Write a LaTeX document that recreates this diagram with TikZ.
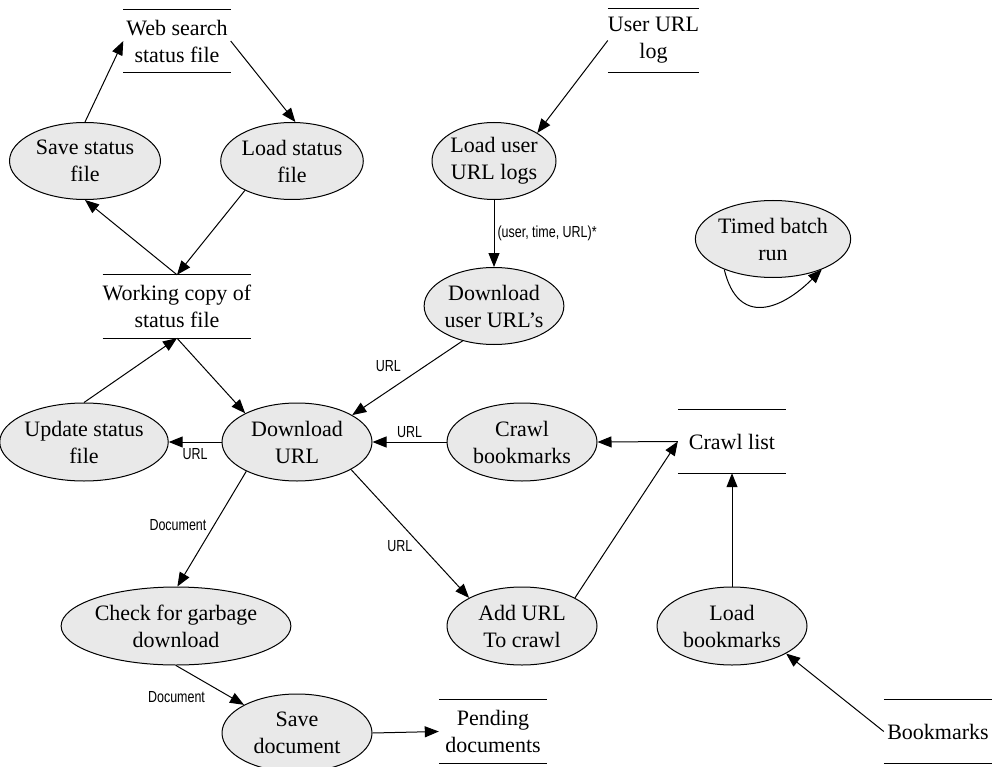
\documentclass[tikz,border=0pt]{standalone}
\usepackage{fontspec}
\setmainfont{Liberation Serif}
\newfontfamily\lblfont[FakeStretch=0.78]{Liberation Sans}
\usetikzlibrary{shapes.geometric,arrows.meta}
\definecolor{procfill}{HTML}{E9E9E9}

\begin{document}
\begin{tikzpicture}[x=1pt,y=-1pt,
  every node/.style={font=\fontsize{22}{27}\selectfont},
  proc/.style={ellipse, draw, line width=1pt, fill=procfill, inner sep=0pt,
    align=center, minimum width=150pt, minimum height=78pt},
  store/.style={rectangle, inner sep=0pt, align=center,
    minimum height=63pt, minimum width=#1},
  storeline/.style={line width=1pt},
  flow/.style={-{Triangle[length=14pt,width=11pt]}, line width=1pt},
  lbl/.style={font=\lblfont\fontsize{16}{19}\selectfont, inner sep=3pt},
]
\useasboundingbox (0,0) rectangle (992,767);

% data stores
\node[store=107pt] (ws) at (177,41)    {Web search\\status file};
\node[store=107pt] (wc) at (177,306.5) {Working copy of\\status file};
\node[store=89pt]  (ul) at (653.5,40.5) {User URL\\log};
\node[store=108pt] (cl) at (732,441.5) {Crawl list};
\node[store=108pt] (pd) at (493,731.5) {Pending\\documents};
\node[store=108pt] (bm) at (938,731.5) {Bookmarks};
\foreach \s in {ws,wc,ul,cl,pd,bm}
  \draw[storeline] (\s.north west) -- (\s.north east)
                   (\s.south west) -- (\s.south east);

% processes
\node[proc, minimum width=151pt, minimum height=77pt] (sv) at (85,161)  {Save status\\file};
\node[proc, minimum width=140pt, minimum height=77pt] (ld) at (292,161) {Load status\\file};
\node[proc, minimum width=124pt, minimum height=77pt] (lu) at (494,161) {Load user\\URL logs};
\node[proc, minimum width=124pt, minimum height=77pt] (dl) at (494,306) {Download\\user URL's};
\node[proc, minimum width=137pt, minimum height=77pt] (bt) at (773,239) {Timed batch\\run};
\node[proc] (up) at (84,442)  {Update status\\file};
\node[proc] (du) at (297,442) {Download\\URL};
\node[proc] (cb) at (522,442) {Crawl\\bookmarks};
\node[proc, minimum width=218pt] (ck) at (176,626) {Check for garbage\\download};
\node[proc] (ad) at (522,626) {Add URL\\To crawl};
\node[proc] (lb) at (732,626) {Load\\bookmarks};
\node[proc] (sd) at (297,733) {Save\\document};

% status file loop
\draw[flow] (sv.north) -- (ws.west);
\draw[flow] (ws.east) -- (ld.85);
\draw[flow] (ld.212) -- (wc.north);
\draw[flow] (wc.north) -- (sv.south);
\draw[flow] (up.north) -- (wc.south);
\draw[flow] (wc.south) -- (du.151);

% user URL logs
\draw[flow] (lu.south) -- node[lbl, right] {(user, time, URL)*} (dl.north);
\draw[flow] (ul.west) -- (lu.33);
\draw[flow] (dl.228) -- node[lbl, pos=0.5, above left=3pt] {URL} (du.26);

% download flows
\draw[flow] (cb.west) -- node[lbl, above=1pt] {URL} (du.east);
\draw[flow] (du.west) -- node[lbl, below=3pt] {URL} (up.east);
\draw[flow] (du.210) -- node[lbl, pos=0.47, left=4pt] {Document} (ck.88);
\draw[flow] (du.-27) -- node[lbl, pos=0.6, left=6pt] {URL} (ad.152);
\draw[flow] (ck.south) -- node[lbl, pos=0.8, left=22pt] {Document} (sd.152);
\draw[flow] (sd.east) -- (pd.west);

% crawl list
\draw[flow] (ad.28) -- (cl.west);
\draw[flow] (cl.west) -- (cb.east);
\draw[flow] (lb.north) -- (cl.south);
\draw[flow] (bm.west) -- (lb.-27);

% batch timer self loop
\draw[flow] (bt.212) .. controls +(14,58) and +(-40,40) .. (bt.-32);
\end{tikzpicture}
\end{document}
